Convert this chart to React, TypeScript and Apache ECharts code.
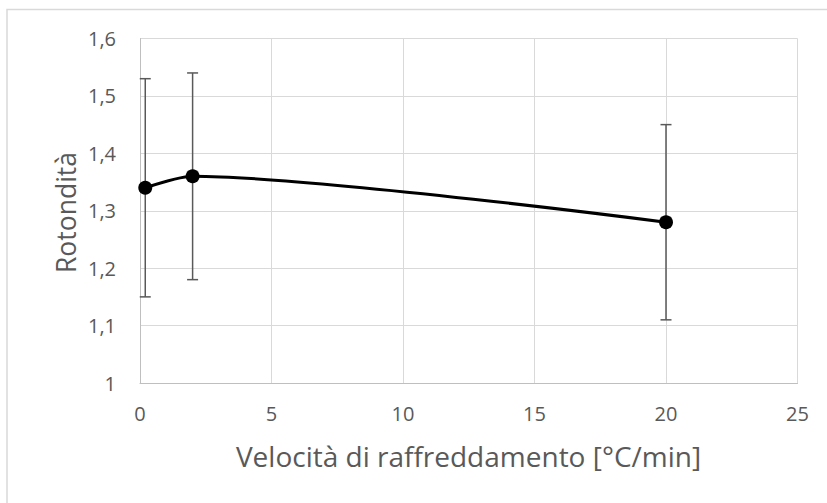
import React, { useEffect, useRef } from "react";
import * as echarts from "echarts";

const xValues = [0.2, 2, 20];
const yValues = [1.34, 1.36, 1.28];
const errLow = [1.15, 1.18, 1.11];
const errHigh = [1.53, 1.54, 1.45];
const xTitle = "Velocità di raffreddamento [°C/min]";
const yTitle = "Rotondità";

const FONT = "'Open Sans', sans-serif";
const TEXT = "#595959";
const GRID = "#d9d9d9";

export default function App() {
  const ref = useRef<HTMLDivElement>(null);
  useEffect(() => {
    if (!ref.current) return;
    const chart = echarts.init(ref.current, null, { renderer: "svg" });
    const lineData = xValues.map((x, i) => [x, yValues[i]]);
    const errData = xValues.map((x, i) => [x, errLow[i], errHigh[i]]);
    chart.setOption({
      animation: false,
      backgroundColor: "#ffffff",
      textStyle: { fontFamily: FONT },
      graphic: [
        {
          type: "rect",
          shape: { x: 7, y: 9.5, width: 840, height: 520 },
          style: { fill: "none", stroke: GRID, lineWidth: 1.5 },
          silent: true,
          z: -10,
        },
        {
          type: "text",
          x: 468.5,
          y: 456,
          style: {
            text: xTitle,
            fill: TEXT,
            fontSize: 28,
            fontFamily: FONT,
            textAlign: "center",
            textVerticalAlign: "middle",
          },
          silent: true,
        },
        {
          type: "text",
          x: 66,
          y: 212.5,
          rotation: Math.PI / 2,
          style: {
            text: yTitle,
            fill: TEXT,
            fontSize: 26.5,
            fontFamily: FONT,
            textAlign: "center",
            textVerticalAlign: "middle",
          },
          silent: true,
        },
      ],
      grid: {
        left: 140,
        top: 38.5,
        right: 29.5,
        bottom: 120,
        containLabel: false,
        outerBoundsMode: "none",
      },
      xAxis: {
        type: "value",
        min: 0,
        max: 25,
        interval: 5,
        axisLine: { show: true, lineStyle: { color: "#bfbfbf", width: 1 } },
        axisTick: { show: false },
        axisLabel: { color: TEXT, fontSize: 20, fontFamily: FONT, margin: 20 },
        splitLine: { show: true, lineStyle: { color: GRID, width: 1 } },
      },
      yAxis: {
        type: "value",
        min: 1,
        max: 1.6,
        interval: 0.1,
        axisLine: { show: true, lineStyle: { color: "#bfbfbf", width: 1 } },
        axisTick: { show: false },
        axisLabel: {
          color: TEXT,
          fontSize: 20,
          fontFamily: FONT,
          margin: 24,
          formatter: (v: number) => String(Math.round(v * 10) / 10).replace(".", ","),
        },
        splitLine: { show: true, lineStyle: { color: GRID, width: 1 } },
      },
      series: [
        {
          type: "custom",
          data: errData,
          encode: { x: 0, y: [1, 2] },
          z: 2,
          renderItem: (params: any, api: any) => {
            const x = api.value(0);
            const lo = api.coord([x, api.value(1)]);
            const hi = api.coord([x, api.value(2)]);
            const half = 5.5;
            const style = { stroke: "#595959", lineWidth: 1.5 };
            return {
              type: "group",
              children: [
                { type: "line", shape: { x1: lo[0], y1: lo[1], x2: hi[0], y2: hi[1] }, style },
                { type: "line", shape: { x1: lo[0] - half, y1: lo[1], x2: lo[0] + half, y2: lo[1] }, style },
                { type: "line", shape: { x1: hi[0] - half, y1: hi[1], x2: hi[0] + half, y2: hi[1] }, style },
              ],
            };
          },
        },
        {
          type: "line",
          data: lineData,
          smooth: 0.25,
          symbol: "circle",
          symbolSize: 14,
          z: 3,
          lineStyle: { color: "#000000", width: 3 },
          itemStyle: { color: "#000000" },
        },
      ],
    });
    return () => chart.dispose();
  }, []);
  return (
    <div
      ref={ref}
      style={{ position: "absolute", left: 0, top: 0, width: 827, height: 503 }}
    />
  );
}
